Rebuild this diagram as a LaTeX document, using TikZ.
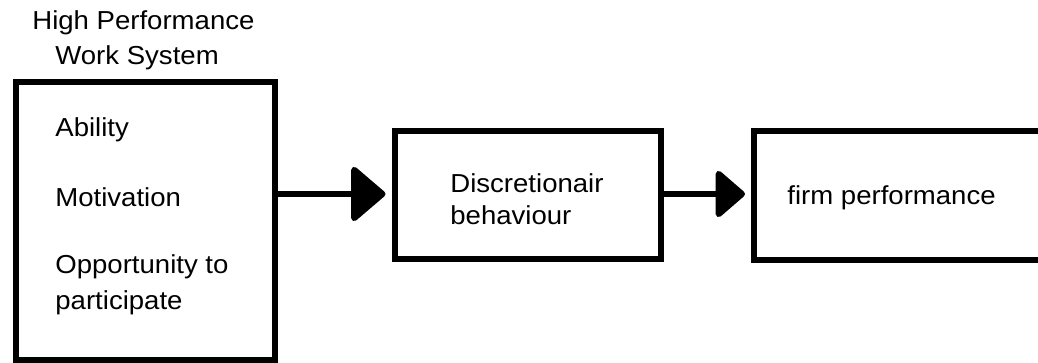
\documentclass[tikz,border=0pt]{standalone}
\usepackage{fontspec}
\usepackage{graphicx}
\setmainfont{Liberation Sans}
\usetikzlibrary{arrows.meta}
\newcommand\widetext[1]{\scalebox{1.06}[1]{#1}}
\tikzset{
  box/.style={draw, line width=3pt, anchor=north west, inner sep=0pt},
  lbl/.style={anchor=base west, inner sep=0pt, font=\fontsize{13pt}{15pt}\selectfont},
  conn/.style={line width=3pt, shorten >=3pt},
  bighead/.style={-{Triangle[length=18pt, width=30pt, round]}},
  smallhead/.style={-{Triangle[length=15.5pt, width=26pt, round]}},
}
\begin{document}
\begin{tikzpicture}[x=0.5pt, y=-0.5pt]
\useasboundingbox (0,0) rectangle (1038,363);
\begin{scope}
\clip (0,0) rectangle (1038,363);
% boxes (center-line dimensions in px, 1px = 0.5pt)
\node[box, minimum width=129.25pt, minimum height=139pt] (hpws) at (13,79) {};
\node[box, minimum width=133.25pt, minimum height=63.75pt] (disc) at (391.5,128.5) {};
\node[box, minimum width=160pt, minimum height=64.5pt] (firm) at (751,128.5) {};
\end{scope}
% texts
\node[lbl] (t1) at (32,30) {\widetext{High Performance}};
\node[lbl] (t2) at (55,65) {\widetext{Work System}};
\node[lbl] (a) at (55,137) {\widetext{Ability}};
\node[lbl] (m) at (55,207) {\widetext{Motivation}};
\node[lbl] (o1) at (55,273) {\widetext{Opportunity to}};
\node[lbl] (o2) at (55,309) {\widetext{participate}};
\node[lbl] (d1) at (450,193) {\widetext{Discretionair}};
\node[lbl] (d2) at (450,225) {\widetext{behaviour}};
\node[lbl] (f) at (787,205) {\widetext{firm performance}};
% connectors
\coordinate (s1) at (hpws.east |- 0,194);
\coordinate (e1) at (disc.west |- 0,194);
\draw[conn, bighead] (s1) -- (e1);
\coordinate (s2) at (disc.east |- 0,194);
\coordinate (e2) at (firm.west |- 0,194);
\draw[conn, smallhead] (s2) -- (e2);
\end{tikzpicture}
\end{document}
